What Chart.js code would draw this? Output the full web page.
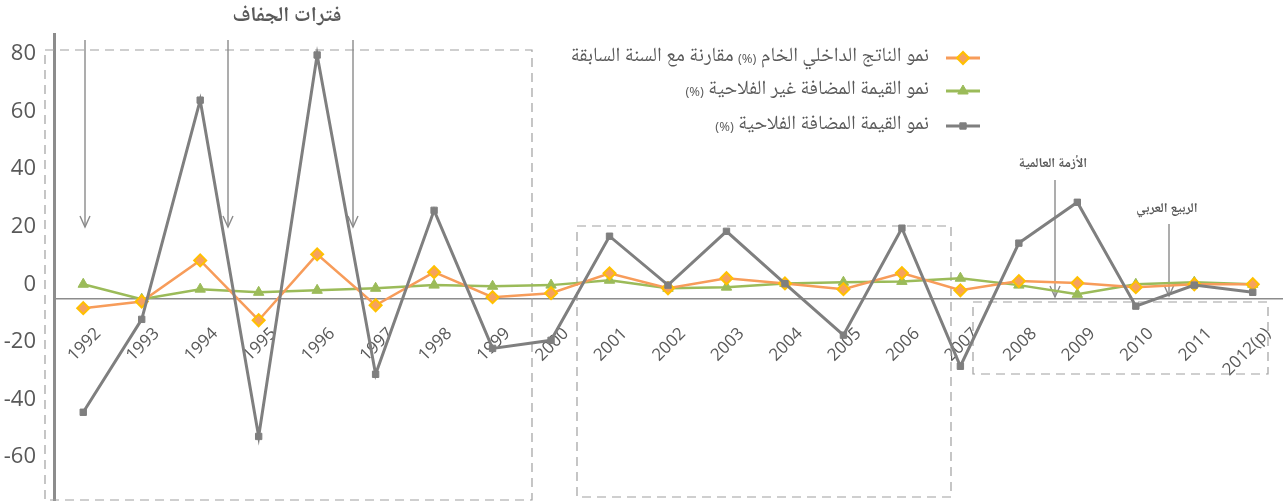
<!DOCTYPE html>
<html lang="ar">
<head>
<meta charset="utf-8">
<script src="https://cdn.jsdelivr.net/npm/chart.js@4.4.1/dist/chart.umd.min.js"></script>
<style>
html, body { margin: 0; padding: 0; background: #fff; }
#wrap { width: 1285px; height: 502px; position: relative; }
</style>
</head>
<body>
<div id="wrap"><canvas id="myChart" width="1285" height="502"></canvas></div>
<script>
// data
var years = ['1992', '1993', '1994', '1995', '1996', '1997', '1998', '1999', '2000', '2001', '2002',
	'2003', '2004', '2005', '2006', '2007', '2008', '2009', '2010', '2011', '2012(p)'];
var gdpGrowth = [-8.3, -6, 8.3, -12.5, 10.4, -7.3, 4.2, -4.5, -3.1, 3.8, -1.4,
	2.1, 0.3, -1.7, 3.9, -2.1, 1.1, 0.4, -1, 0, 0];
var nonAgriGrowth = [0, -5.2, -1.7, -2.8, -2.1, -1.4, -0.3, -0.7, -0.3, 1.4, -1.4,
	-1, 0.3, 0.7, 1, 2.1, -0.3, -3.5, 0, 0.7, 0];
var agriGrowth = [-44.5, -12.2, 64, -52.9, 79.7, -31.3, 25.7, -22.3, -19.5, 16.7, -0.3,
	18.4, 0.2, -17.7, 19.5, -28.5, 14.3, 28.5, -7.6, -0.3, -2.8];
var yTicks = [-60, -40, -20, 0, 20, 40, 60, 80];
var gdpLabel = 'نمو الناتج الداخلي الخام (%) مقارنة مع السنة السابقة';
var nonAgriLabel = 'نمو القيمة المضافة غير الفلاحية (%)';
var agriLabel = 'نمو القيمة المضافة الفلاحية (%)';
var droughtTitle = 'فترات الجفاف';
var crisisTitle = 'الأزمة العالمية';
var springTitle = 'الربيع العربي';

var arabicFont = '"Noto Naskh Arabic", "Noto Sans Arabic", "DejaVu Sans", sans-serif';

function arrow(ctx, x, y1, y2) {
	ctx.beginPath();
	ctx.moveTo(x, y1);
	ctx.lineTo(x, y2);
	ctx.stroke();
	ctx.beginPath();
	ctx.moveTo(x - 5, y2 - 11);
	ctx.lineTo(x, y2);
	ctx.lineTo(x + 5, y2 - 11);
	ctx.stroke();
}

// label text with a smaller "(%)", laid out right to left
function rtlLabel(ctx, text, right, y) {
	var parts = text.split('(%)');
	var x = right;
	for (var i = 0; i < parts.length; i++) {
		var p = parts[i];
		ctx.font = '20px ' + arabicFont;
		ctx.direction = 'rtl';
		ctx.fillText(p, x, y);
		x -= ctx.measureText(p).width;
		if (i < parts.length - 1) {
			ctx.font = '13px "Open Sans", sans-serif';
			ctx.direction = 'ltr';
			ctx.fillText('(%)', x, y + 1);
			x -= ctx.measureText('(%)').width;
		}
	}
}

/*annotations: dashed boxes, arrows, titles*/
var annotations = {
	id: 'annotations',
	beforeDatasetsDraw: function (chart) {
		var ctx = chart.ctx;
		ctx.save();
		ctx.strokeStyle = '#a0a0a0';
		ctx.lineWidth = 1.2;
		ctx.setLineDash([9, 6]);
		ctx.strokeRect(45, 50, 487, 450);
		ctx.strokeRect(577, 226, 374, 271);
		ctx.strokeRect(973, 302, 295, 72);
		ctx.setLineDash([]);
		ctx.strokeStyle = '#8a8a8a';
		ctx.lineWidth = 1.4;
		arrow(ctx, 85, 40, 227);
		arrow(ctx, 228, 40, 227);
		arrow(ctx, 353, 40, 227);
		arrow(ctx, 1055, 180, 297);
		arrow(ctx, 1169, 224, 296);
		ctx.restore();
	},
	afterDraw: function (chart) {
		var ctx = chart.ctx;
		ctx.save();
		ctx.fillStyle = '#595959';
		ctx.textAlign = 'center';
		ctx.textBaseline = 'middle';
		ctx.font = 'bold 21px ' + arabicFont;
		ctx.fillText(droughtTitle, 287, 18);
		ctx.font = 'bold 13.5px ' + arabicFont;
		ctx.fillText(crisisTitle, 1053, 165);
		ctx.fillText(springTitle, 1167, 210);

		// legend
		var rows = [58, 91, 126];
		var order = [1, 2, 0];
		ctx.textAlign = 'right';
		for (var i = 0; i < 3; i++) {
			var ds = chart.data.datasets[order[i]];
			var y = rows[i];
			ctx.strokeStyle = ds.borderColor;
			ctx.lineWidth = 3;
			ctx.beginPath();
			ctx.moveTo(946, y);
			ctx.lineTo(980, y);
			ctx.stroke();
			ctx.fillStyle = ds.pointBackgroundColor;
			ctx.strokeStyle = ds.pointBorderColor;
			ctx.lineWidth = ds.pointBorderWidth;
			Chart.helpers.drawPoint(ctx, {pointStyle: ds.pointStyle, radius: ds.pointRadius, borderWidth: ds.pointBorderWidth, rotation: 0}, 963, y);
			ctx.fillStyle = '#595959';
			rtlLabel(ctx, ds.label, 929, y);
		}
		ctx.restore();
	}
};

var ctx = document.getElementById('myChart').getContext('2d');
var chart = new Chart(ctx, {
	type: 'line',
	data: {
		labels: years,
		datasets: [
			{
				label: agriLabel,
				data: agriGrowth,
				order: 0,
				borderColor: '#7f7f7f',
				borderWidth: 3,
				pointStyle: 'rect',
				pointRadius: 4.5,
				pointBackgroundColor: '#7f7f7f',
				pointBorderColor: '#7f7f7f',
				pointBorderWidth: 1
			},
			{
				label: gdpLabel,
				data: gdpGrowth,
				order: 1,
				borderColor: '#f79c5a',
				borderWidth: 2.5,
				pointStyle: 'rectRot',
				pointRadius: 6,
				pointBackgroundColor: '#f6a15e',
				pointBorderColor: '#ffc000',
				pointBorderWidth: 2
			},
			{
				label: nonAgriLabel,
				data: nonAgriGrowth,
				order: 2,
				borderColor: '#9bbb59',
				borderWidth: 2.5,
				pointStyle: 'triangle',
				pointRadius: 6,
				pointBackgroundColor: '#9bbb59',
				pointBorderColor: '#9bbb59',
				pointBorderWidth: 1
			}
		]
	},
	options: {
		responsive: false,
		animation: false,
		devicePixelRatio: 1,
		locale: 'en-US',
		layout: {autoPadding: false, padding: {top: 34, bottom: 2, left: 0, right: 3}},
		plugins: {legend: {display: false}, tooltip: {enabled: false}},
		elements: {line: {tension: 0}},
		scales: {
			x: {
				type: 'category',
				position: {y: -5},
				offset: true,
				grid: {display: false},
				border: {display: true, color: '#8c8c8c', width: 1.5},
				afterFit: function (scale) {
					scale.paddingLeft = 0;
					scale.paddingRight = 0;
					scale.paddingTop = 0;
					scale.paddingBottom = 0;
				},
				ticks: {
					autoSkip: false,
					minRotation: 45,
					maxRotation: 45,
					padding: 17,
					labelOffset: 15,
					color: '#595959',
					font: {family: '"Open Sans", sans-serif', size: 17}
				}
			},
			y: {
				min: -75,
				max: 87,
				grid: {display: false},
				border: {display: true, color: '#8c8c8c', width: 3},
				afterFit: function (scale) {
					scale.width = 54;
					scale.paddingTop = 0;
					scale.paddingBottom = 0;
				},
				afterBuildTicks: function (scale) {
					scale.ticks = yTicks.map(function (v) { return {value: v}; });
				},
				ticks: {
					padding: 10,
					color: '#595959',
					font: {family: '"Open Sans", sans-serif', size: 22}
				}
			}
		}
	},
	plugins: [annotations]
});
</script>
</body>
</html>
